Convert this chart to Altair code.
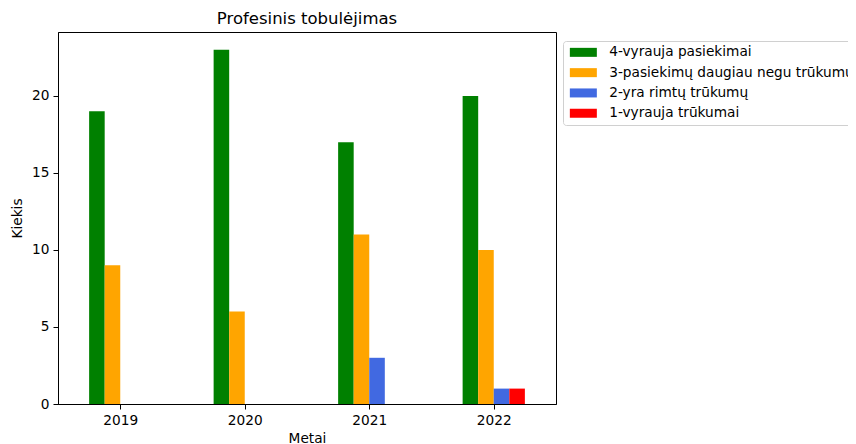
import altair as alt
import pandas as pd

years = [2019, 2020, 2021, 2022]
categories = [
    "4-vyrauja pasiekimai",
    "3-pasiekimų daugiau negu trūkumų",
    "2-yra rimtų trūkumų",
    "1-vyrauja trūkumai",
]
vals_4 = [19, 23, 17, 20]
vals_3 = [9, 6, 11, 10]
vals_2 = [0, 0, 3, 1]
vals_1 = [0, 0, 0, 1]
colors = ["green", "orange", "royalblue", "red"]
y_ticks = [0, 5, 10, 15, 20]

series = [vals_4, vals_3, vals_2, vals_1]
rows = []
for i, (cat, vals) in enumerate(zip(categories, series)):
    for yr, v in zip(years, vals):
        rows.append({"Metai": yr, "Kategorija": cat, "idx": i, "Kiekis": v})
df = pd.DataFrame(rows)

BAR_W = 0.125
FONT = "DejaVu Sans"

chart = (
    alt.Chart(df)
    .transform_calculate(
        x0=f"datum.Metai + (datum.idx - 2) * {BAR_W}",
        x1=f"datum.Metai + (datum.idx - 1) * {BAR_W}",
    )
    .mark_bar()
    .encode(
        x=alt.X(
            "x0:Q",
            scale=alt.Scale(domain=[2018.5, 2022.5], nice=False, zero=False),
            axis=alt.Axis(values=years, format="d", title="Metai", titleY=34, titleBaseline="middle"),
        ),
        x2="x1:Q",
        y=alt.Y(
            "Kiekis:Q",
            scale=alt.Scale(domain=[0, 24.15], nice=False),
            axis=alt.Axis(values=y_ticks, title="Kiekis", titleX=-41, titleBaseline="middle"),
        ),
        y2=alt.datum(0),
        color=alt.Color(
            "Kategorija:N",
            scale=alt.Scale(domain=categories, range=colors),
            legend=alt.Legend(
                title=None,
                orient="none",
                legendX=505,
                legendY=9,
                symbolType="M-3,-1L3,-1L3,1L-3,1Z",
                symbolSize=81,
                symbolOffset=9,
                labelOffset=19,
                rowPadding=5.3,
                padding=4.5,
                strokeColor="#d0d0d0",
                fillColor="white",
                cornerRadius=3,
                labelFont=FONT,
                labelFontSize=13.7,
                labelColor="black",
                labelLimit=1000,
                symbolStrokeWidth=0,
                symbolOpacity=1,
            ),
        ),
    )
    .properties(
        width=498,
        height=372,
        background="white",
        autosize=alt.AutoSizeParams(type="none"),
        padding={"left": 50, "top": 24, "right": 292, "bottom": 40},
        title=alt.Title(
            "Profesinis tobulėjimas",
            font=FONT,
            fontSize=16.5,
            fontWeight="normal",
            color="black",
            anchor="middle",
            baseline="alphabetic",
            offset=8,
            dy=16,
        ),
    )
    .configure_view(stroke="black", strokeWidth=1)
    .configure_axis(
        grid=False,
        domainColor="black",
        domainWidth=1,
        tickColor="black",
        tickWidth=1,
        tickSize=5,
        labelPadding=4,
        labelFont=FONT,
        labelFontSize=13.7,
        labelColor="black",
        titleFont=FONT,
        titleFontSize=13.7,
        titleFontWeight="normal",
        titleColor="black",
    )
)

chart.save("out.html", embed_options={"renderer": "svg", "actions": False})
